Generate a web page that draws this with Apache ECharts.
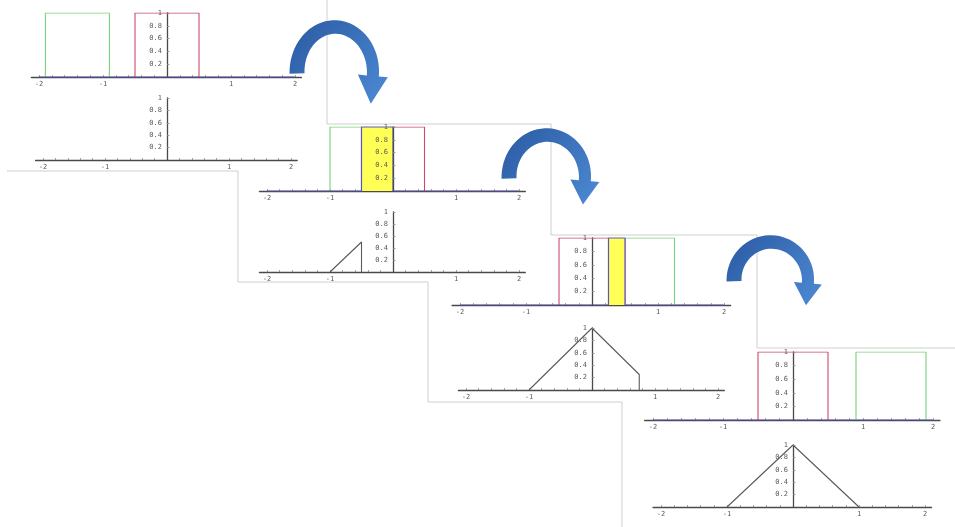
<!DOCTYPE html>
<html>
<head>
<meta charset="utf-8">
<script src="https://cdn.jsdelivr.net/npm/echarts@6/dist/echarts.min.js"></script>
<style>
  html, body { margin: 0; padding: 0; background: #ffffff; }
  #chart { width: 955px; height: 527px; }
</style>
</head>
<body>
<div id="chart"></div>
<script>
// ---- values ----
const xTickLabels = [-2, -1, 1, 2];
const xTickMarks = [-2, -1.8, -1.6, -1.4, -1.2, -1, -0.8, -0.6, -0.4, -0.2, 0,
                    0.2, 0.4, 0.6, 0.8, 1, 1.2, 1.4, 1.6, 1.8, 2];
const yTickLabels = [0.2, 0.4, 0.6, 0.8, 1];

// fixed unit box
const redBox = [[-0.5, 0], [-0.5, 1], [0.5, 1], [0.5, 0]];

// sliding box at four shift positions
const greenBoxes = [
  [[-1.9, 0], [-1.9, 1], [-0.9, 1], [-0.9, 0]],
  [[-1, 0], [-1, 1], [0, 1], [0, 0]],
  [[0.25, 0], [0.25, 1], [1.25, 1], [1.25, 0]],
  [[0.9, 0], [0.9, 1], [1.9, 1], [1.9, 0]]
];

// product of the two boxes (overlap)
const productLines = [
  [[-2, 0], [2, 0]],
  [[-2, 0], [-0.5, 0], [-0.5, 1], [0, 1], [0, 0], [2, 0]],
  [[-2, 0], [0.25, 0], [0.25, 1], [0.5, 1], [0.5, 0], [2, 0]],
  [[-2, 0], [2, 0]]
];

// convolution result traced up to the current shift
const convLines = [
  [],
  [[-1, 0], [-0.5, 0.5], [-0.5, 0]],
  [[-1, 0], [0, 1], [0.75, 0.25], [0.75, 0]],
  [[-1, 0], [0, 1], [1, 0]]
];

// ---- layout: origin pixel and unit size of each small plot ----
const frames = [
  { x0: 167, y0: 77,  ux: 64, uy: 64 },
  { x0: 167, y0: 160, ux: 62, uy: 62 },
  { x0: 393, y0: 191, ux: 63, uy: 64 },
  { x0: 393, y0: 272, ux: 63, uy: 60 },
  { x0: 592, y0: 305, ux: 66, uy: 67 },
  { x0: 592, y0: 390, ux: 63, uy: 62 },
  { x0: 793, y0: 420, ux: 70, uy: 68 },
  { x0: 793, y0: 507, ux: 66, uy: 62 }
];
const X_MIN = -2.12, X_MAX = 2.1;

const RED = '#c94a68', GREEN = '#7ad27a', BLUE = '#5a55c8', YELLOW = '#ffff55';
const AXIS = '#4a4a4a', LABEL = '#5a5a5a', CURVE = '#5a5a5a', TICK = '#8a8a8a';
const FONT = 'DejaVu Sans Mono';

const grids = [], xAxes = [], yAxes = [], series = [];

frames.forEach((f, i) => {
  grids.push({
    left: f.x0 + X_MIN * f.ux,
    top: f.y0 - f.uy,
    width: (X_MAX - X_MIN) * f.ux,
    height: f.uy,
    containLabel: false,
    outerBoundsMode: 'none'
  });
  xAxes.push({
    type: 'value', gridIndex: i, min: X_MIN, max: X_MAX,
    axisLine: { show: true, onZero: false, lineStyle: { color: AXIS, width: 1.3 } },
    axisTick: { show: true, inside: true, length: 2, customValues: xTickMarks,
                lineStyle: { color: TICK, width: 0.8 } },
    axisLabel: { show: true, customValues: xTickLabels, margin: 4,
                 fontSize: 7, color: LABEL, fontFamily: FONT },
    splitLine: { show: false }
  });
  // the vertical axis sits on x = 0, shifted in from the grid's left edge
  yAxes.push({
    type: 'value', gridIndex: i, min: 0, max: 1, interval: 0.2, z: 5,
    position: 'left', offset: X_MIN * f.ux,
    axisLine: { show: true, onZero: false, lineStyle: { color: AXIS, width: 1.3 } },
    axisTick: { show: true, inside: true, length: 2.5, lineStyle: { color: TICK, width: 0.8 } },
    axisLabel: {
      show: true, margin: 5, fontSize: 7, color: LABEL, fontFamily: FONT,
      showMinLabel: false,
      formatter: v => (yTickLabels.indexOf(+v.toFixed(1)) >= 0 ? (v === 1 ? '1' : v.toFixed(1)) : '')
    },
    splitLine: { show: false }
  });
});

const lineSeries = (idx, data, color, width, z, extra) => Object.assign({
  type: 'line', xAxisIndex: idx, yAxisIndex: idx, data: data,
  symbol: 'none', silent: true, animation: false, z: z,
  lineStyle: { color: color, width: width }
}, extra || {});

for (let p = 0; p < 4; p++) {
  const top = 2 * p, bottom = 2 * p + 1;
  series.push(lineSeries(top, redBox, RED, 1.1, 2));
  series.push(lineSeries(top, greenBoxes[p], GREEN, 1.1, 2));
  series.push(lineSeries(top, productLines[p], BLUE, 1.2, 3,
    { areaStyle: { color: YELLOW, opacity: 1 } }));
  series.push(lineSeries(bottom, convLines[p], CURVE, 1.1, 3));
}

// ---- curved arrows between the steps ----
function arrowPoints(cx, cy, rx, ry, a0, a1, w0, w1, hw, hl) {
  const rad = d => d * Math.PI / 180;
  const pt = (a, dr) => [cx + (rx + dr) * Math.cos(rad(a)), cy - (ry + dr) * Math.sin(rad(a))];
  const n = 40, outer = [], inner = [];
  for (let k = 0; k <= n; k++) {
    const a = a0 + (a1 - a0) * k / n;
    const w = w0 + (w1 - w0) * k / n;
    outer.push(pt(a, w / 2));
    inner.push(pt(a, -w / 2));
  }
  const t = [rx * Math.sin(rad(a1)), ry * Math.cos(rad(a1))];
  const tl = Math.hypot(t[0], t[1]);
  const c = pt(a1, 0);
  const tip = [c[0] + t[0] / tl * hl, c[1] + t[1] / tl * hl];
  return outer.concat([pt(a1, hw / 2), tip, pt(a1, -hw / 2)], inner.reverse());
}
const arrowFill = {
  type: 'linear', x: 0, y: 0, x2: 1, y2: 1,
  colorStops: [{ offset: 0, color: '#2a5aa2' }, { offset: 1, color: '#4d8ad4' }]
};
const arrowSpecs = [
  { cx: 335, cy: 72,  rx: 38, ry: 45, hl: 28, hw: 30 },
  { cx: 547, cy: 177, rx: 38, ry: 42, hl: 24, hw: 29 },
  { cx: 771, cy: 280, rx: 37, ry: 38, hl: 22, hw: 28 }
];
const arrows = arrowSpecs.map(s => ({
  type: 'polygon', z: 10, silent: true,
  shape: { points: arrowPoints(s.cx, s.cy, s.rx, s.ry, 182, -5, 15, 12, s.hw, s.hl) },
  style: { fill: arrowFill }
}));

// ---- outlines of the stacked sheets ----
const sheetEdges = [
  [[7, 171], [238, 171]], [[327, 0], [327, 124]],
  [[327, 124], [551, 124], [551, 235]], [[238, 171], [238, 282], [428, 282]],
  [[551, 235], [757, 235], [757, 348]], [[428, 282], [428, 402], [622, 402]],
  [[757, 348], [955, 348]], [[622, 402], [622, 527]]
];
const edges = sheetEdges.map(pts => ({
  type: 'polyline', z: 1, silent: true,
  shape: { points: pts },
  style: { stroke: '#cfcfcf', lineWidth: 1, fill: null }
}));

const chart = echarts.init(document.getElementById('chart'), null, { renderer: 'canvas' });
chart.setOption({
  backgroundColor: '#ffffff',
  animation: false,
  grid: grids,
  xAxis: xAxes,
  yAxis: yAxes,
  series: series,
  graphic: edges.concat(arrows)
});
</script>
</body>
</html>
